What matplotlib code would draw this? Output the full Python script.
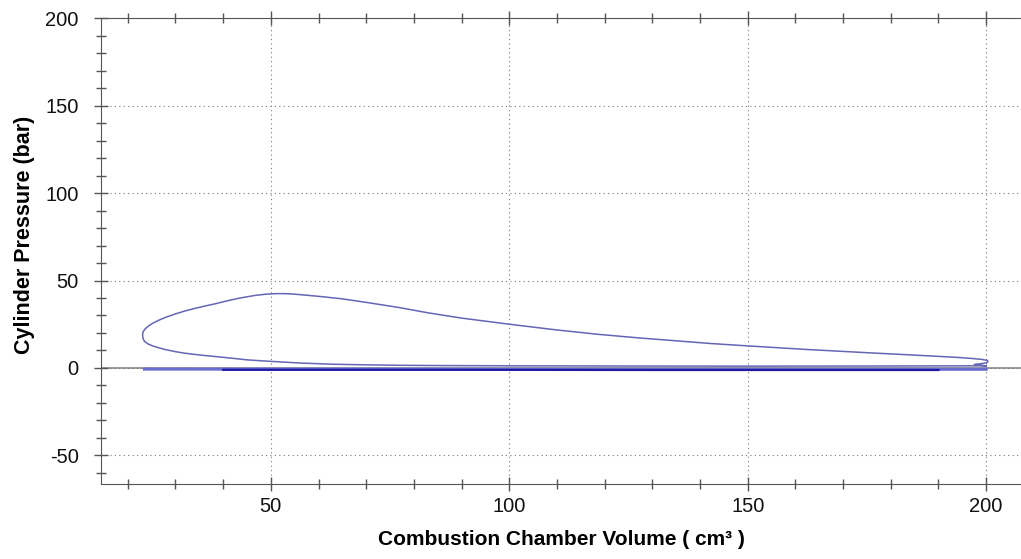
import numpy as np
import matplotlib.pyplot as plt
from matplotlib.ticker import MultipleLocator

# closed p-V loop (volume cm3, pressure bar)
loop_v = [200, 180, 150, 120, 100, 85, 77, 70, 63, 56, 49, 45, 42, 38, 35, 32, 30, 28, 26.5,
          25.2, 24.2, 23.5, 23.2, 23.1,
          23.2, 23.6, 24.3, 25.2, 26.5, 28, 30, 32, 34, 36, 38.5, 40.7, 43, 45, 47, 49,
          51, 53, 55, 57.5, 61, 65, 70, 77, 83, 90, 100,
          110, 118.7, 127, 135, 142, 150, 162, 175, 183, 190, 194, 197, 199, 200.2,
          200.4, 200.1, 199.2, 197.5, 198.8, 200]
loop_p = [1.2, 1.1, 1.0, 1.1, 1.2, 1.35, 1.5, 1.75, 2.1, 2.8, 3.9, 4.6, 5.5, 6.6, 7.4, 8.4, 9.3, 10.4, 11.5,
          12.6, 13.8, 15.2, 16.8, 19.0,
          20.6, 22.2, 23.9, 25.5, 27.3, 29.0, 30.9, 32.6, 34.0, 35.3, 36.8, 38.3, 39.7, 40.7, 41.6, 42.2,
          42.5, 42.5, 42.2, 41.6, 40.7, 39.5, 37.5, 34.5, 31.5, 28.5, 25.0,
          21.7, 19.2, 17.2, 15.5, 14.0, 12.6, 10.6, 8.7, 7.6, 6.6, 6.0, 5.4, 4.9, 4.3,
          3.7, 3.0, 2.5, 2.0, 1.5, 1.2]

# gas exchange strokes (flat near zero)
exh_v = [23.5, 60, 100, 150, 200]
exh_p = [-0.7, -0.7, -0.8, -0.8, -0.8]
int_v = [40, 90, 130, 190]
int_p = [-1.1, -1.1, -1.2, -1.2]

plt.rcParams['font.family'] = ['Liberation Sans', 'DejaVu Sans']
plt.rcParams['axes.unicode_minus'] = False

fig = plt.figure(figsize=(10.21, 5.59), dpi=100)
ax = fig.add_axes([0.099, 0.134, 0.901, 0.833])

ax.axhline(0, color='#8a8a8a', lw=1.2, zorder=1)
ax.plot(exh_v, exh_p, color='#6c6cd0', lw=2.2, zorder=2)
ax.plot(int_v, int_p, color='#1c1ca8', lw=1.6, zorder=3)
ax.plot(loop_v, loop_p, color='#6565b5', lw=1.1, zorder=4)

ax.set_xlim(14.4, 207.3)
ax.set_ylim(-66.5, 200)

ax.xaxis.set_major_locator(MultipleLocator(50))
ax.xaxis.set_minor_locator(MultipleLocator(10))
ax.yaxis.set_major_locator(MultipleLocator(50))
ax.yaxis.set_minor_locator(MultipleLocator(10))

ax.tick_params(which='both', colors='#555555', labelcolor='#111111', labelsize=14.5,
               top=True, right=False)
ax.tick_params(which='major', direction='inout', length=10, width=1)
ax.tick_params(which='minor', direction='inout', length=7, width=1)
ax.tick_params(axis='x', pad=4)
ax.tick_params(axis='y', pad=11)

ax.grid(True, which='major', color='#777777', ls=(0, (1, 3)), lw=0.8)

for side in ['left', 'bottom', 'top']:
    ax.spines[side].set_color('#555555')
ax.spines['right'].set_visible(False)

ax.set_xlabel('Combustion Chamber Volume ( cm³ )', fontsize=15, fontweight='bold', va='center')
ax.set_ylabel('Cylinder Pressure (bar)', fontsize=15.5, fontweight='bold', va='center')
ax.xaxis.set_label_coords(0.5, -0.12)
ax.yaxis.set_label_coords(-0.083, 0.535)

fig.savefig('out.png', dpi=100)
